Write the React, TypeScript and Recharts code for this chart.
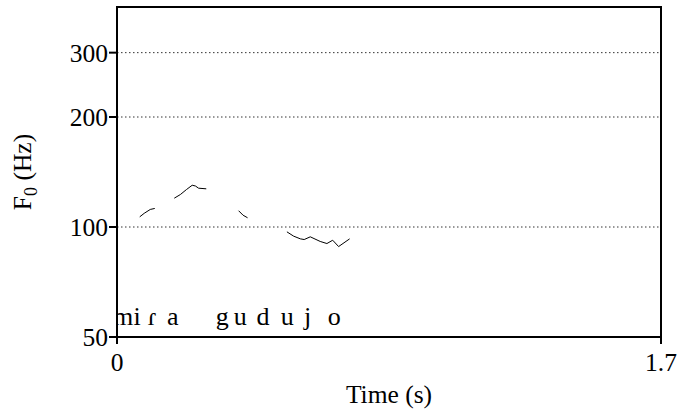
import React from 'react';
import {
  ComposedChart,
  Line,
  Scatter,
  XAxis,
  YAxis,
  CartesianGrid,
  ReferenceArea,
  Label,
} from 'recharts';

// pitch track pieces (time in s, F0 in Hz)
const seg1Time = [0.071, 0.085, 0.104, 0.118];
const seg1F0 = [106.6, 109.0, 111.7, 112.4];

const seg2Time = [0.179, 0.198, 0.217, 0.235, 0.245, 0.255, 0.279];
const seg2F0 = [119.9, 122.7, 126.6, 130.1, 129.5, 127.7, 127.2];

const seg3Time = [0.38, 0.394, 0.408];
const seg3F0 = [110.8, 107.7, 106.0];

const seg4Time = [0.531, 0.552, 0.573, 0.585, 0.604, 0.635, 0.656, 0.674, 0.6925, 0.727];
const seg4F0 = [97.0, 94.4, 92.8, 92.4, 94.0, 91.3, 90.1, 92.0, 88.4, 92.8];

// segment labels along the bottom
const segLabels = ['m', 'i', 'ɾ', 'a', 'g', 'u', 'd', 'u', 'j', 'o'];
const segLabelTimes = [0.019, 0.063, 0.11, 0.174, 0.329, 0.385, 0.456, 0.532, 0.596, 0.679];

const xTicks = [0, 1.7];
const yTicks = [50, 100, 200, 300];
const xDomain = [0, 1.7];
const yDomain = [50, 400];

const FONT = '"Liberation Serif", "Times New Roman", serif';
const LABEL_F0 = 53.9; // baseline height of the segment labels

const toPoints = (ts: number[], fs: number[]) => ts.map((t, i) => ({ t, f0: fs[i] }));

const segments = [
  toPoints(seg1Time, seg1F0),
  toPoints(seg2Time, seg2F0),
  toPoints(seg3Time, seg3F0),
  toPoints(seg4Time, seg4F0),
];

const labelPoints = segLabels.map((text, i) => ({ t: segLabelTimes[i], f0: LABEL_F0, text }));

const LabelShape = (props: any) => {
  const { cx, cy, payload } = props;
  return (
    <text x={cx} y={cy} textAnchor="middle" fontFamily={FONT} fontSize={26} fill="#000">
      {payload.text}
    </text>
  );
};

const YTitle = (props: any) => {
  const vb = props.viewBox || { x: 0, y: 0, height: 0 };
  const cx = vb.x + 31;
  const cy = vb.y + vb.height / 2;
  return (
    <text
      x={cx}
      y={cy}
      transform={`rotate(-90, ${cx}, ${cy})`}
      textAnchor="middle"
      fontFamily={FONT}
      fontSize={25.5}
      fill="#000"
    >
      F
      <tspan fontSize={18} dy={6}>0</tspan>
      <tspan dy={-6}> (Hz)</tspan>
    </text>
  );
};

const XTitle = (props: any) => {
  const vb = props.viewBox || { x: 0, y: 0, width: 0 };
  return (
    <text
      x={vb.x + vb.width / 2}
      y={vb.y + 66}
      textAnchor="middle"
      fontFamily={FONT}
      fontSize={25.5}
      fill="#000"
    >
      Time (s)
    </text>
  );
};

export default function App() {
  const tickStyle = { fill: '#000', fontSize: 25.5, fontFamily: FONT };
  return (
    <div style={{ position: 'absolute', left: 0, top: 0, background: '#fff' }}>
      <ComposedChart width={680} height={412} margin={{ top: 7, right: 19, bottom: 0, left: 0 }}>
        <CartesianGrid vertical={false} stroke="#333" strokeDasharray="1.5 2.5" />
        <XAxis
          dataKey="t"
          type="number"
          domain={xDomain}
          ticks={xTicks}
          height={75}
          tick={tickStyle}
          tickSize={7}
          tickMargin={9}
          axisLine={{ stroke: '#000', strokeWidth: 2 }}
          tickLine={{ stroke: '#000', strokeWidth: 2 }}
          allowDataOverflow
        >
          <Label content={<XTitle />} />
        </XAxis>
        <YAxis
          dataKey="f0"
          type="number"
          scale="log"
          domain={yDomain}
          ticks={yTicks}
          width={117}
          tick={tickStyle}
          tickSize={8}
          tickMargin={1}
          axisLine={{ stroke: '#000', strokeWidth: 2 }}
          tickLine={{ stroke: '#000', strokeWidth: 2 }}
          allowDataOverflow
        >
          <Label content={<YTitle />} />
        </YAxis>
        <ReferenceArea
          x1={xDomain[0]}
          x2={xDomain[1]}
          y1={yDomain[0]}
          y2={yDomain[1]}
          fill="none"
          stroke="#000"
          strokeWidth={2}
          ifOverflow="visible"
        />
        {segments.map((seg, i) => (
          <Line
            key={i}
            data={seg}
            dataKey="f0"
            type="linear"
            stroke="#000"
            strokeWidth={1}
            dot={false}
            isAnimationActive={false}
          />
        ))}
        <Scatter data={labelPoints} dataKey="f0" shape={<LabelShape />} isAnimationActive={false} />
      </ComposedChart>
    </div>
  );
}
